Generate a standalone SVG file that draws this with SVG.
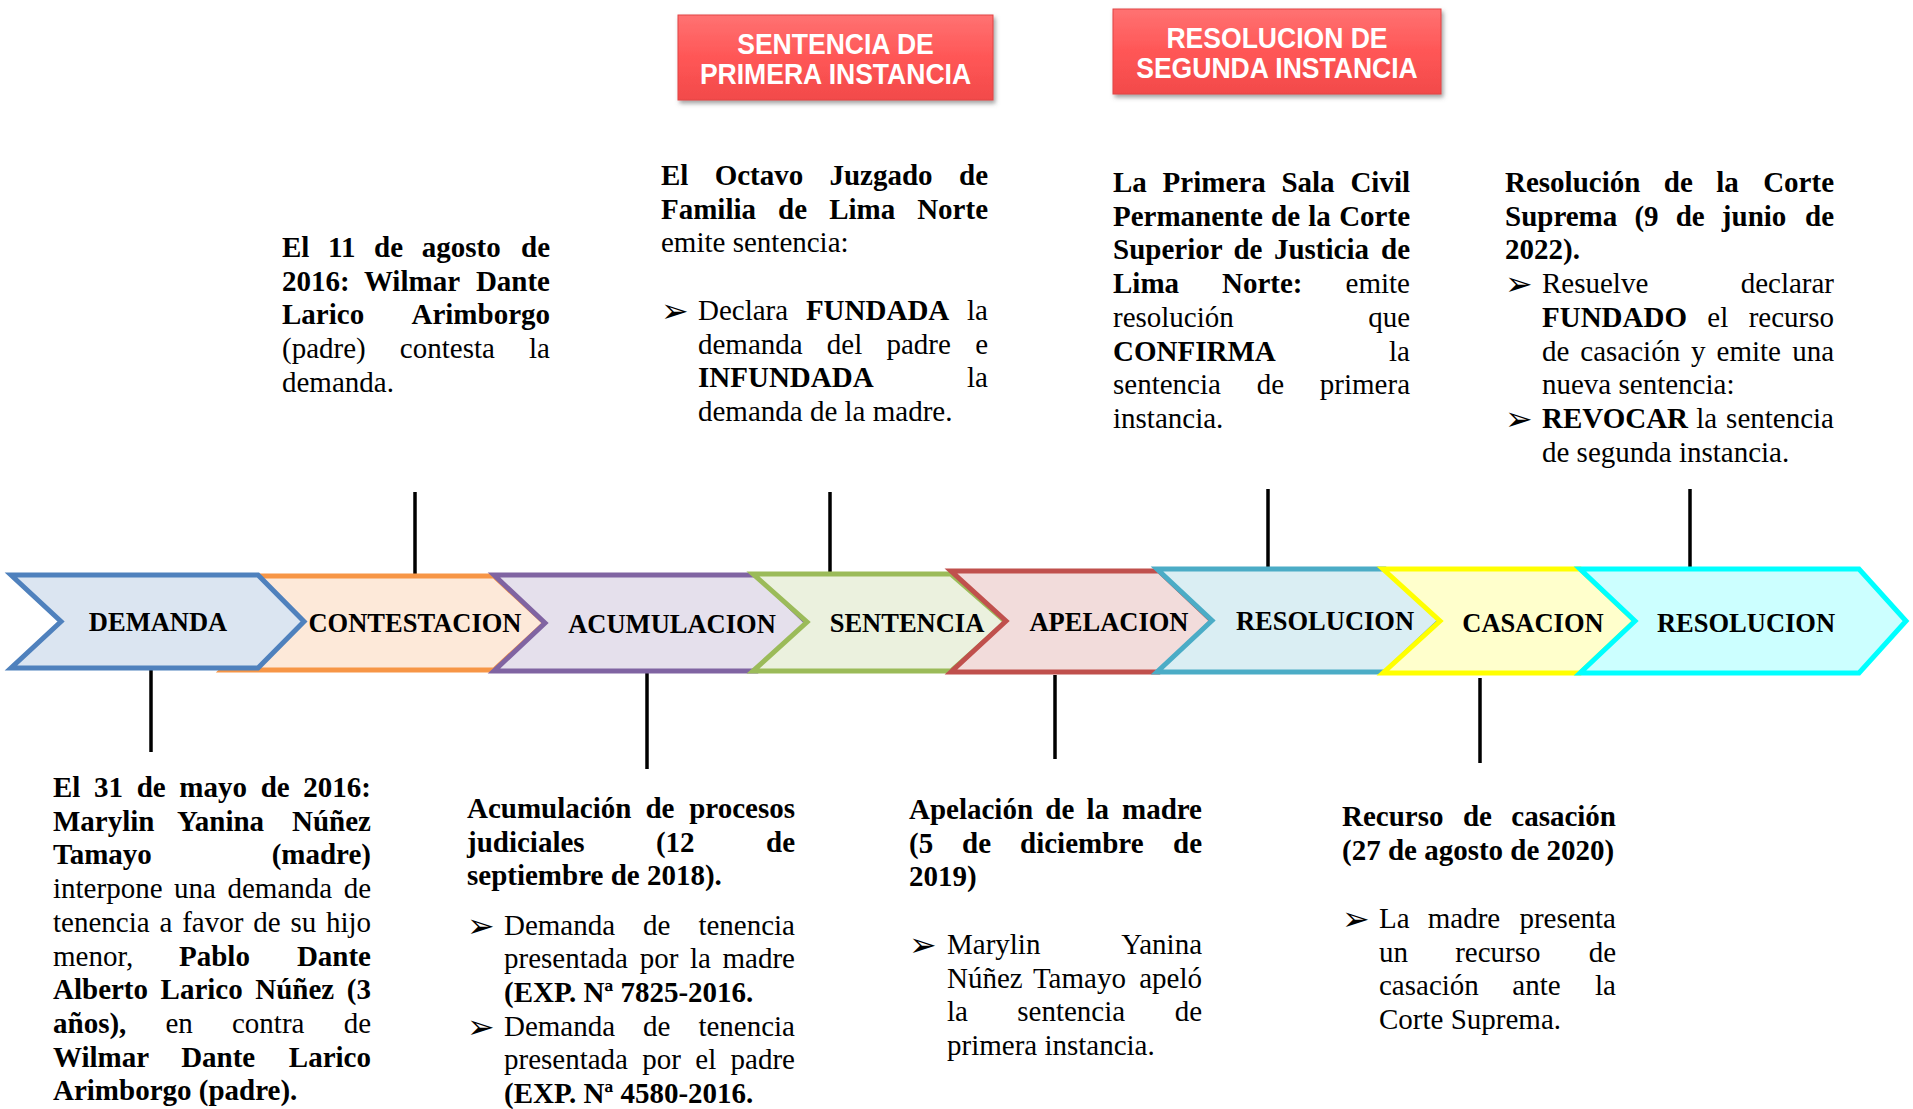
<svg xmlns="http://www.w3.org/2000/svg" width="1913" height="1109" viewBox="0 0 1913 1109">
<style>
.t{font-family:"Liberation Serif","Times New Roman",serif;font-size:29px;fill:#000}
.b{font-weight:bold}
.e{text-anchor:end}
.lbl{font-family:"Liberation Serif","Times New Roman",serif;font-size:26.5px;font-weight:bold;text-anchor:middle;fill:#000}
.ch{stroke-width:5;stroke-linejoin:miter}
.tick{stroke:#000;stroke-width:3.5}
.bul{font-family:"DejaVu Sans",sans-serif;font-size:33px;fill:#000}
.bx{font-family:"Liberation Sans",Arial,sans-serif;font-size:29.5px;font-weight:bold;fill:#fff;text-anchor:middle}
</style>
<defs>
<linearGradient id="rg" x1="0" y1="0" x2="0" y2="1">
<stop offset="0" stop-color="#FF7272"/>
<stop offset="0.5" stop-color="#FF5656"/>
<stop offset="1" stop-color="#F24A4A"/>
</linearGradient>
<filter id="sh" x="-10%" y="-20%" width="120%" height="150%">
<feDropShadow dx="2" dy="3" stdDeviation="2" flood-color="#555" flood-opacity="0.55"/>
</filter>
</defs>
<rect width="1913" height="1109" fill="#fff"/>

<g id="connectors">
<line class="tick" x1="415" y1="492" x2="415" y2="576"/>
<line class="tick" x1="830" y1="492" x2="830" y2="574"/>
<line class="tick" x1="1268" y1="489" x2="1268" y2="569"/>
<line class="tick" x1="1690" y1="489" x2="1690" y2="569"/>
<line class="tick" x1="151" y1="668" x2="151" y2="752"/>
<line class="tick" x1="647" y1="671" x2="647" y2="769"/>
<line class="tick" x1="1055" y1="675" x2="1055" y2="759"/>
<line class="tick" x1="1480" y1="678" x2="1480" y2="763"/>
</g>

<g id="contestacion">
<polygon class="ch" fill="#FDE9D9" stroke="#F79646" points="222,576 494,576 545,623 494,670 222,670 270,623"/>
<text class="lbl" x="415" y="632">CONTESTACION</text>
</g>
<g id="demanda">
<polygon class="ch" fill="#DBE5F1" stroke="#4F81BD" points="11,575 258,575 304,621.5 258,668 11,668 61,621.5"/>
<text class="lbl" x="158" y="631">DEMANDA</text>
</g>
<g id="acumulacion">
<polygon class="ch" fill="#E5E0EC" stroke="#8064A2" points="494,575 757,575 807,623 757,671 494,671 545,623"/>
<text class="lbl" x="672" y="633">ACUMULACION</text>
</g>
<g id="sentencia">
<polygon class="ch" fill="#EBF1DE" stroke="#9BBB59" points="753,574 951,574 1006,622 951,671 753,671 807,622"/>
<text class="lbl" x="907" y="632">SENTENCIA</text>
</g>
<g id="apelacion">
<polygon class="ch" fill="#F2DCDB" stroke="#C0504D" points="951,571 1159,571 1212,621 1159,672 951,672 1006,621"/>
<text class="lbl" x="1109" y="631">APELACION</text>
</g>
<g id="resolucion1">
<polygon class="ch" fill="#DAEEF3" stroke="#4BACC6" points="1157,569 1385,569 1440,620.5 1385,672 1157,672 1212,620.5"/>
<text class="lbl" x="1325" y="630">RESOLUCION</text>
</g>
<g id="casacion">
<polygon class="ch" fill="#FFFFCC" stroke="#FFFF00" points="1383,569 1580,569 1635,621 1580,673 1383,673 1440,621"/>
<text class="lbl" x="1533" y="632">CASACION</text>
</g>
<g id="resolucion2">
<polygon class="ch" fill="#CCFFFF" stroke="#00FFFF" points="1580,569 1859,569 1906,621 1859,673 1580,673 1635,621"/>
<text class="lbl" x="1746" y="632">RESOLUCION</text>
</g>

<g id="box-primera">
<rect x="678" y="15" width="315" height="85" fill="url(#rg)" stroke="#E24444" stroke-width="1" filter="url(#sh)"/>
<text class="bx" transform="translate(835.5,54) scale(0.9,1)">SENTENCIA DE</text>
<text class="bx" transform="translate(835.5,84) scale(0.9,1)">PRIMERA INSTANCIA</text>
</g>
<g id="box-segunda">
<rect x="1113" y="9" width="328" height="85" fill="url(#rg)" stroke="#E24444" stroke-width="1" filter="url(#sh)"/>
<text class="bx" transform="translate(1277,48) scale(0.9,1)">RESOLUCION DE</text>
<text class="bx" transform="translate(1277,77.5) scale(0.9,1)">SEGUNDA INSTANCIA</text>
</g>

<g id="txt-demanda">
<text class="t b" x="53" y="797" word-spacing="6.4">El 31 de mayo de</text><text class="t b e" x="371" y="797">2016:</text>
<text class="t b" x="53" y="830.7" word-spacing="16.4">Marylin Yanina</text><text class="t b e" x="371" y="830.7">Núñez</text>
<text class="t b" x="53" y="864.4">Tamayo</text><text class="t b e" x="371" y="864.4">(madre)</text>
<text class="t" x="53" y="898.1" word-spacing="4.3">interpone una demanda</text><text class="t e" x="371" y="898.1">de</text>
<text class="t" x="53" y="931.8" word-spacing="2.6">tenencia a favor de su</text><text class="t e" x="371" y="931.8">hijo</text>
<text class="t" x="53" y="965.5" word-spacing="38.6">menor, <tspan class="b">Pablo</tspan></text><text class="t b e" x="371" y="965.5">Dante</text>
<text class="t b" x="53" y="999.2" word-spacing="5.3">Alberto Larico Núñez</text><text class="t b e" x="371" y="999.2">(3</text>
<text class="t" x="53" y="1032.9" word-spacing="31.9"><tspan class="b">años),</tspan> en contra</text><text class="t e" x="371" y="1032.9">de</text>
<text class="t b" x="53" y="1066.6" word-spacing="25.3">Wilmar Dante</text><text class="t b e" x="371" y="1066.6">Larico</text>
<text class="t b" x="53" y="1100.3">Arimborgo (padre).</text>
</g>

<g id="txt-contestacion">
<text class="t b" x="282" y="257" word-spacing="11.4">El 11 de agosto</text><text class="t b e" x="550" y="257">de</text>
<text class="t b" x="282" y="290.7" word-spacing="7.5">2016: Wilmar</text><text class="t b e" x="550" y="290.7">Dante</text>
<text class="t b" x="282" y="324.4">Larico</text><text class="t b e" x="550" y="324.4">Arimborgo</text>
<text class="t" x="282" y="358.1" word-spacing="26.9">(padre) contesta</text><text class="t e" x="550" y="358.1">la</text>
<text class="t" x="282" y="391.8">demanda.</text>
</g>

<g id="txt-sentencia">
<text class="t b" x="661" y="185" word-spacing="19">El Octavo Juzgado</text><text class="t b e" x="988" y="185">de</text>
<text class="t b" x="661" y="218.7" word-spacing="14.8">Familia de Lima</text><text class="t b e" x="988" y="218.7">Norte</text>
<text class="t" x="661" y="252.4">emite sentencia:</text>
<text class="bul" x="661" y="322">➢</text>
<text class="t" x="698" y="320" word-spacing="10.5">Declara <tspan class="b">FUNDADA</tspan></text><text class="t e" x="988" y="320">la</text>
<text class="t" x="698" y="353.7" word-spacing="16.9">demanda del padre</text><text class="t e" x="988" y="353.7">e</text>
<text class="t b" x="698" y="387.4">INFUNDADA</text><text class="t e" x="988" y="387.4">la</text>
<text class="t" x="698" y="421.1">demanda de la madre.</text>
</g>

<g id="txt-resolucion1">
<text class="t b" x="1113" y="192" word-spacing="8.5">La Primera Sala</text><text class="t b e" x="1410" y="192">Civil</text>
<text class="t b" x="1113" y="225.7" word-spacing="1">Permanente de la</text><text class="t b e" x="1410" y="225.7">Corte</text>
<text class="t b" x="1113" y="259.4" word-spacing="4.2">Superior de Justicia</text><text class="t b e" x="1410" y="259.4">de</text>
<text class="t b" x="1113" y="293.1" word-spacing="35.7">Lima Norte:</text><text class="t e" x="1410" y="293.1">emite</text>
<text class="t" x="1113" y="326.8">resolución</text><text class="t e" x="1410" y="326.8">que</text>
<text class="t b" x="1113" y="360.5">CONFIRMA</text><text class="t e" x="1410" y="360.5">la</text>
<text class="t" x="1113" y="394.2" word-spacing="28.5">sentencia de</text><text class="t e" x="1410" y="394.2">primera</text>
<text class="t" x="1113" y="427.9">instancia.</text>
</g>

<g id="txt-resolucion2">
<text class="t b" x="1505" y="192" word-spacing="16.2">Resolución de la</text><text class="t b e" x="1834" y="192">Corte</text>
<text class="t b" x="1505" y="225.7" word-spacing="9.9">Suprema (9 de junio</text><text class="t b e" x="1834" y="225.7">de</text>
<text class="t b" x="1505" y="259.4">2022).</text>
<text class="bul" x="1505" y="295.1">➢</text>
<text class="t" x="1542" y="293.1">Resuelve</text><text class="t e" x="1834" y="293.1">declarar</text>
<text class="t" x="1542" y="326.8" word-spacing="13.1"><tspan class="b">FUNDADO</tspan> el</text><text class="t e" x="1834" y="326.8">recurso</text>
<text class="t" x="1542" y="360.5" word-spacing="3.7">de casación y emite</text><text class="t e" x="1834" y="360.5">una</text>
<text class="t" x="1542" y="394.2">nueva sentencia:</text>
<text class="bul" x="1505" y="429.9">➢</text>
<text class="t" x="1542" y="427.9" word-spacing="1"><tspan class="b">REVOCAR</tspan> la</text><text class="t e" x="1834" y="427.9">sentencia</text>
<text class="t" x="1542" y="461.6">de segunda instancia.</text>
</g>

<g id="txt-acumulacion">
<text class="t b" x="467" y="818" word-spacing="6.9">Acumulación de</text><text class="t b e" x="795" y="818">procesos</text>
<text class="t b" x="467" y="851.7" word-spacing="64.1">judiciales (12</text><text class="t b e" x="795" y="851.7">de</text>
<text class="t b" x="467" y="885.4">septiembre de 2018).</text>
<text class="bul" x="467" y="936.5">➢</text>
<text class="t" x="504" y="934.5" word-spacing="20.7">Demanda de</text><text class="t e" x="795" y="934.5">tenencia</text>
<text class="t" x="504" y="968.2" word-spacing="4.4">presentada por la</text><text class="t e" x="795" y="968.2">madre</text>
<text class="t b" x="504" y="1001.9">(EXP. Nª 7825-2016.</text>
<text class="bul" x="467" y="1037.6">➢</text>
<text class="t" x="504" y="1035.6" word-spacing="20.7">Demanda de</text><text class="t e" x="795" y="1035.6">tenencia</text>
<text class="t" x="504" y="1069.3" word-spacing="7.1">presentada por el</text><text class="t e" x="795" y="1069.3">padre</text>
<text class="t b" x="504" y="1103">(EXP. Nª 4580-2016.</text>
</g>

<g id="txt-apelacion">
<text class="t b" x="909" y="819" word-spacing="5">Apelación de la</text><text class="t b e" x="1202" y="819">madre</text>
<text class="t b" x="909" y="852.7" word-spacing="21.7">(5 de diciembre</text><text class="t b e" x="1202" y="852.7">de</text>
<text class="t b" x="909" y="886.4">2019)</text>
<text class="bul" x="909" y="956">➢</text>
<text class="t" x="947" y="954">Marylin</text><text class="t e" x="1202" y="954">Yanina</text>
<text class="t" x="947" y="987.7" word-spacing="3.5">Núñez Tamayo</text><text class="t e" x="1202" y="987.7">apeló</text>
<text class="t" x="947" y="1021.4" word-spacing="42.1">la sentencia</text><text class="t e" x="1202" y="1021.4">de</text>
<text class="t" x="947" y="1055.1">primera instancia.</text>
</g>

<g id="txt-casacion">
<text class="t b" x="1342" y="826" word-spacing="12.2">Recurso de</text><text class="t b e" x="1616" y="826">casación</text>
<text class="t b" x="1342" y="859.7">(27 de agosto de 2020)</text>
<text class="bul" x="1342" y="930">➢</text>
<text class="t" x="1379" y="928" word-spacing="10.9">La madre</text><text class="t e" x="1616" y="928">presenta</text>
<text class="t" x="1379" y="961.7" word-spacing="39.9">un recurso</text><text class="t e" x="1616" y="961.7">de</text>
<text class="t" x="1379" y="995.4" word-spacing="26.2">casación ante</text><text class="t e" x="1616" y="995.4">la</text>
<text class="t" x="1379" y="1029.1">Corte Suprema.</text>
</g>
</svg>
